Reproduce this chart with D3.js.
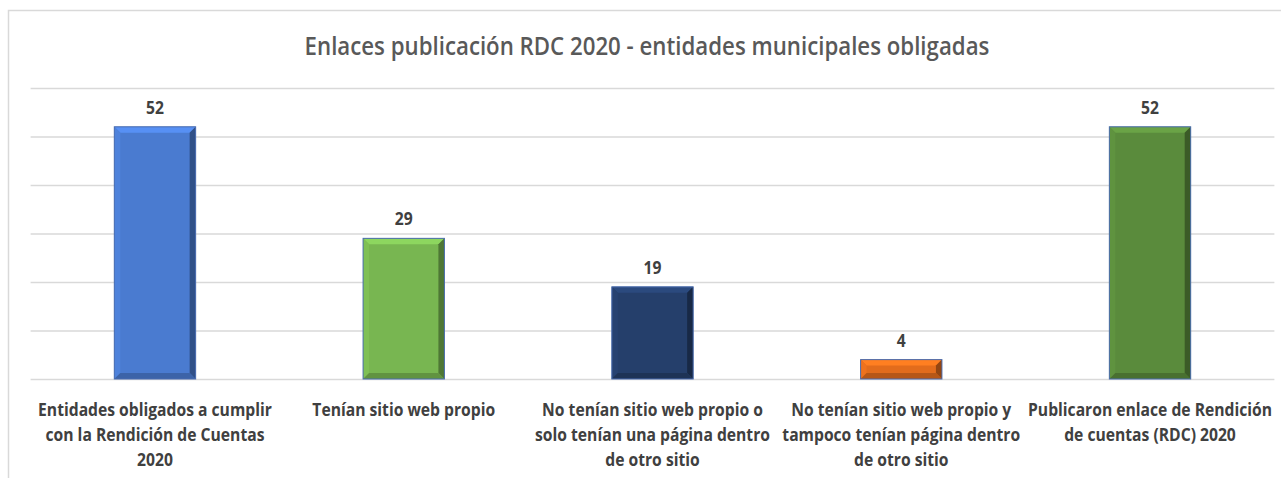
<!DOCTYPE html>
<html>
<head>
<meta charset="utf-8">
<script src="https://cdn.jsdelivr.net/npm/d3@7"></script>
<style>
  html, body { margin: 0; padding: 0; background: #ffffff; }
  svg { display: block; }
</style>
</head>
<body>
<svg id="chart" width="1281" height="478"></svg>
<script>
const title = "Enlaces publicación RDC 2020 - entidades municipales obligadas";
const categories = [
  "Entidades obligados a cumplir\ncon la Rendición de Cuentas\n2020",
  "Tenían sitio web propio",
  "No tenían sitio web propio o\nsolo tenían una página dentro\nde otro sitio",
  "No tenían sitio web propio y\ntampoco tenían página dentro\nde otro sitio",
  "Publicaron enlace de Rendición\nde cuentas (RDC) 2020"
];
const values = [52, 29, 19, 4, 52];
const barColors = ["#4a7bd0", "#78b651", "#253f6b", "#e26c1c", "#5a8b3c"];
const yTicks = [0, 10, 20, 30, 40, 50, 60];

const svg = d3.select("#chart");

// chart area border (clipped at right & bottom like the reference)
svg.append("rect")
  .attr("x", 8.5).attr("y", 10.5)
  .attr("width", 1400).attr("height", 600)
  .attr("fill", "#ffffff")
  .attr("stroke", "#d9d9d9").attr("stroke-width", 1.5);

const plotLeft = 30.6, plotRight = 1274.4, plotTop = 88, plotBottom = 379;

const x = d3.scaleBand().domain(categories).range([plotLeft, plotRight])
  .paddingInner(0.673).paddingOuter(0.3365);
const y = d3.scaleLinear().domain([0, 60]).range([plotBottom, plotTop]);

// gridlines
const grid = svg.append("g")
  .attr("transform", `translate(${plotLeft},0)`)
  .call(d3.axisLeft(y).tickValues(yTicks).tickSize(-(plotRight - plotLeft)).tickFormat(""));
grid.select(".domain").remove();
grid.selectAll(".tick line").attr("stroke", "#d9d9d9").attr("stroke-width", 1.5);

// title (horizontally condensed to emulate Calibri)
const tg = svg.append("g");
const t = tg.append("text")
  .attr("x", 0).attr("y", 55)
  .attr("text-anchor", "middle")
  .attr("font-family", "'Open Sans', sans-serif")
  .attr("font-weight", 600)
  .attr("font-size", 26)
  .attr("fill", "#595959")
  .text(title);
{
  const kt = 685 / t.node().getComputedTextLength();
  tg.attr("transform", `translate(647,0) scale(${kt},1)`);
}

// bars with bevel
const bars = svg.append("g").selectAll("g").data(values).join("g");
bars.each(function(v, i) {
  const g = d3.select(this);
  const x0 = x(categories[i]), x1 = x0 + x.bandwidth();
  const y0 = y(v), y1 = y(0);
  const b = Math.min(6, (y1 - y0) / 2.5);
  const c = d3.color(barColors[i]);
  g.append("rect").attr("x", x0).attr("y", y0).attr("width", x1 - x0).attr("height", y1 - y0)
    .attr("fill", c.formatHex());
  const poly = (pts, fill) => g.append("polygon")
    .attr("points", pts.map(p => p.join(",")).join(" ")).attr("fill", fill);
  poly([[x0, y0], [x1, y0], [x1 - b, y0 + b], [x0 + b, y0 + b]], c.brighter(0.45).formatHex());
  poly([[x0, y0], [x0 + b, y0 + b], [x0 + b, y1 - b], [x0, y1]], c.brighter(0.15).formatHex());
  poly([[x1, y0], [x1, y1], [x1 - b, y1 - b], [x1 - b, y0 + b]], c.darker(1.2).formatHex());
  poly([[x0, y1], [x1, y1], [x1 - b, y1 - b], [x0 + b, y1 - b]], c.darker(0.6).formatHex());
  g.append("rect").attr("x", x0).attr("y", y0).attr("width", x1 - x0).attr("height", y1 - y0)
    .attr("fill", "none").attr("stroke", "#4a6db0").attr("stroke-width", 1);
});

// category labels
const clg = svg.append("g").selectAll("g").data(categories).join("g");
const cl = clg.append("text")
  .attr("text-anchor", "middle")
  .attr("font-family", "'Open Sans', sans-serif")
  .attr("font-weight", 700)
  .attr("font-size", 18)
  .attr("fill", "#404040");
cl.each(function(d) {
  d3.select(this).selectAll("tspan").data(d.split("\n")).join("tspan")
    .attr("x", 0).attr("y", (s, j) => 416 + j * 25).text(s => s);
});
const k = 234 / cl.select("tspan").node().getComputedTextLength();
clg.attr("transform", d => `translate(${x(d) + x.bandwidth() / 2},0) scale(${k},1)`);

// value labels
const vlg = svg.append("g").selectAll("g").data(values).join("g")
  .attr("transform", (d, i) => `translate(${x(categories[i]) + x.bandwidth() / 2},0) scale(${k},1)`);
vlg.append("text")
  .attr("x", 0)
  .attr("y", d => y(d) - 13)
  .attr("text-anchor", "middle")
  .attr("font-family", "'Open Sans', sans-serif")
  .attr("font-weight", 700)
  .attr("font-size", 18)
  .attr("fill", "#404040")
  .text(d => d);
</script>
</body>
</html>
